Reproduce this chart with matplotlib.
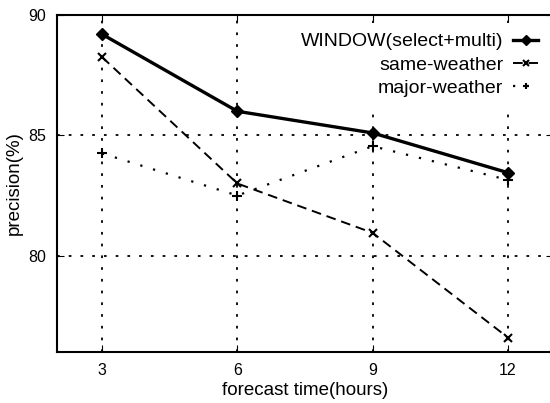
import matplotlib
matplotlib.use("Agg")
import matplotlib.pyplot as plt

hours = [3, 6, 9, 12]
window = [89.2, 86.0, 85.1, 83.45]
same_weather = [88.25, 83.0, 80.95, 76.6]
major_weather = [84.25, 82.5, 84.55, 83.15]
xticks = [3, 6, 9, 12]
yticks = [80, 85, 90]

plt.rcParams['font.family'] = ['Liberation Sans', 'DejaVu Sans']

fig = plt.figure(figsize=(5.5, 4.03), dpi=100)
ax = fig.add_axes([57/550, 1-352/403, (553-57)/550, (352-15)/403])

ax.plot(hours, window, color='black', lw=2.4, marker='D', ms=6,
        label='WINDOW(select+multi)')
ax.plot(hours, same_weather, color='black', lw=1.4, ls=(0, (5, 3)), marker='x', ms=6,
        mew=1.5, label='same-weather')
ax.plot(hours, major_weather, color='black', lw=1.6, ls=(0, (1, 5)), marker='+', ms=7,
        mew=1.5, label='major-weather')

ax.set_xlim(2, 13)
ax.set_ylim(76, 90)
ax.set_xticks(xticks)
ax.set_yticks(yticks)
ax.grid(True, color='black', ls=(0, (1.5, 5)), lw=1.3)
ax.tick_params(direction='in', top=True, right=True, length=5, labelsize=11.5, pad=8)
for s in ax.spines.values():
    s.set_linewidth(1.5)

ax.set_xlabel('forecast time(hours)', fontsize=13.5, labelpad=3)
ax.set_ylabel('precision(%)', fontsize=13.5, labelpad=4)

leg = ax.legend(loc='upper right', bbox_to_anchor=(548/550, 1-23/403),
                bbox_transform=fig.transFigure, frameon=True, fancybox=False,
                facecolor='white', edgecolor='none', framealpha=1.0,
                markerfirst=False,
                fontsize=14, handlelength=1.3, handletextpad=0.5,
                labelspacing=0.3, borderaxespad=0, borderpad=0.5)
for h in leg.legend_handles:
    h.set_markersize(5)

fig.savefig('out.png', dpi=100)
